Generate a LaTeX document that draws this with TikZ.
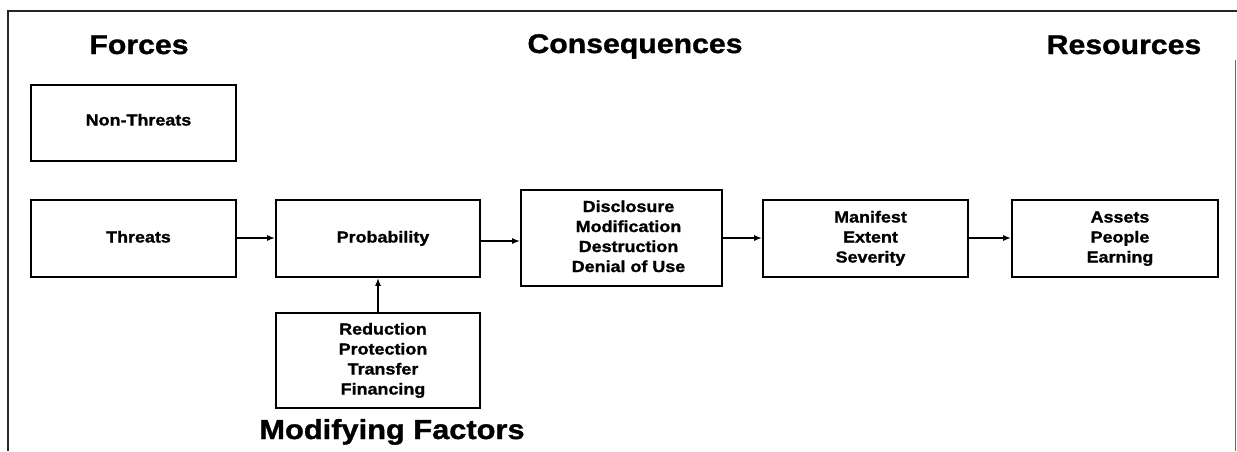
\documentclass[tikz,border=0pt]{standalone}
\usepackage{fontspec}
\setmainfont{Liberation Sans}
\newfontfamily\widefont[FakeStretch=1.12,FakeBold=1.2]{Liberation Sans}
\usetikzlibrary{arrows.meta}
\newcommand{\bxtext}[1]{\hspace*{10pt}\begin{tabular}{@{}c@{}}#1\end{tabular}}
\begin{document}
\begin{tikzpicture}[x=1pt,y=-1pt,
  box/.style={draw=black,line width=1.6pt,inner sep=0pt,align=center,
    font=\widefont\bfseries\fontsize{16}{20}\selectfont},
  heading/.style={inner sep=0pt,anchor=base,font=\widefont\bfseries\fontsize{27}{30}\selectfont},
  conn/.style={line width=1.6pt,-{Latex[length=8pt,width=6pt]}},
  frame/.style={line width=1.3pt,black!85}]
\useasboundingbox (0,0) rectangle (1237,451);
% frame
\coordinate (ftl) at (8,11);
\coordinate (ftr) at (1237,11);
\coordinate (fbl) at (8,451);
\coordinate (frt) at (1235.5,60);
\coordinate (frb) at (1235.5,451);
\draw[frame] (fbl) -- (ftl) -- (ftr);
\draw[frame,black!60] (frt) -- (frb);
% headings
\node[heading] (hforces) at (139,54) {Forces};
\node[heading] (hcons) at (635,53) {Consequences};
\node[heading] (hres) at (1124,54) {Resources};
\node[heading,font=\widefont\bfseries\fontsize{27.5}{30}\selectfont] (hmod) at (392,439) {Modifying Factors};
% boxes
\node[box,minimum width=205pt,minimum height=76pt] (nonthreats) at (133.5,123)
  {\bxtext{\raisebox{1.5pt}{Non-Threats}}};
\node[box,minimum width=205pt,minimum height=77pt] (threats) at (133.5,238.5) {\bxtext{Threats}};
\node[box,minimum width=204pt,minimum height=77pt] (prob) at (378,238.5) {\bxtext{Probability}};
\node[box,minimum width=201pt,minimum height=96pt] (cons) at (621.5,238)
  {\hspace*{4pt}\bxtext{Disclosure\\Modification\\Destruction\\Denial of Use}};
\node[box,minimum width=205pt,minimum height=77pt] (manifest) at (865.5,238.5)
  {\bxtext{Manifest\\Extent\\Severity}};
\node[box,minimum width=206pt,minimum height=77pt] (assets) at (1115,238.5)
  {\bxtext{Assets\\People\\Earning}};
\node[box,minimum width=204pt,minimum height=95pt] (reduction) at (378,360.5)
  {\bxtext{Reduction\\Protection\\Transfer\\Financing}};
% connectors
\draw[conn] (threats.east |- 0,238) -- (prob.west |- 0,238);
\draw[conn] (prob.east |- 0,241) -- (cons.west |- 0,241);
\draw[conn] (cons.east |- 0,238) -- (manifest.west |- 0,238);
\draw[conn] (manifest.east |- 0,238) -- (assets.west |- 0,238);
\draw[conn] (reduction.north) -- (prob.south);
\end{tikzpicture}
\end{document}
